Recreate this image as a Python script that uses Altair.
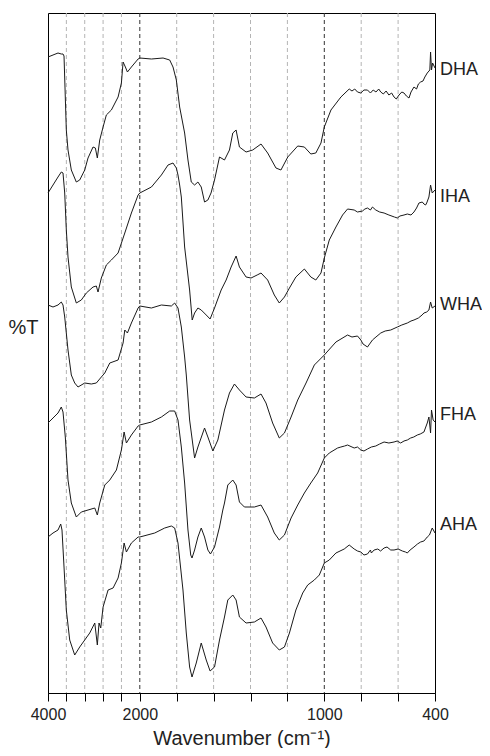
import altair as alt
import pandas as pd

FONT = "Liberation Sans"

TICKS = [4000, 3600, 3200, 2800, 2400, 2000, 1800, 1600, 1400, 1200, 1000, 800, 600, 400]
LABELED = [4000, 2000, 1000, 400]
MINOR_GRID = [3600, 3200, 2800, 2400, 1800, 1600, 1400, 1200, 800, 600]
MAJOR_GRID = [2000, 1000]

DHA_WN = [4000, 3891, 3782, 3710, 3673, 3651, 3601, 3564, 3492, 3383, 3309, 3200, 3128, 3019, 2968, 2925,
          2873, 2800, 2729, 2619, 2473, 2401, 2364, 2314, 2270, 2183, 2037, 2000, 1937, 1874, 1838, 1820,
          1802, 1784, 1757, 1739, 1721, 1703, 1685, 1667, 1649, 1631, 1614, 1595, 1568, 1541, 1514, 1496,
          1478, 1460, 1424, 1388, 1343, 1307, 1262, 1235, 1198, 1144, 1108, 1073, 1046, 1018, 1000, 964,
          910, 865, 850, 835, 820, 802, 785, 766, 750, 735, 720, 705, 694, 680, 665, 650, 635, 622, 610,
          595, 580, 568, 555, 541, 530, 514, 500, 490, 478, 465, 455, 442, 428, 424, 419, 413, 400]
DHA_T = [636, 638, 640, 639, 639, 637, 563, 543, 523, 511, 513, 523, 535, 546, 545, 535,
         553, 566, 578, 583, 596, 610, 631, 626, 621, 626, 634, 635, 634, 635, 633, 626,
         613, 586, 560, 533, 511, 508, 511, 506, 491, 493, 500, 513, 536, 533, 543, 560,
         563, 546, 541, 543, 549, 540, 525, 523, 536, 547, 546, 539, 540, 550, 566, 583,
         596, 604, 602, 604, 601, 600, 603, 603, 600, 603, 601, 604, 601, 599, 602, 598, 600, 596, 594,
         598, 601, 600, 597, 595, 601, 606, 604, 609, 611, 612, 616, 620, 623, 641, 623, 630, 625]

IHA_WN = [4000, 3891, 3782, 3710, 3673, 3636, 3601, 3564, 3492, 3383, 3274, 3165, 3019, 2947, 2910, 2838,
          2729, 2619, 2473, 2327, 2183, 2037, 2000, 1937, 1883, 1847, 1820, 1802, 1793, 1784, 1775, 1757,
          1730, 1716, 1703, 1685, 1667, 1640, 1619, 1595, 1559, 1532, 1505, 1478, 1460, 1424, 1397, 1364,
          1343, 1307, 1271, 1244, 1216, 1189, 1154, 1108, 1073, 1046, 1018, 1000, 973, 937, 901, 874, 838,
          820, 793, 780, 766, 750, 739, 721, 700, 676, 650, 620, 604, 590, 568, 550, 530, 514, 500, 487,
          469, 460, 451, 445, 433, 424, 415, 400]
IHA_T = [500, 508, 516, 521, 520, 500, 463, 436, 406, 390, 393, 400, 406, 407, 401, 415,
         428, 433, 440, 460, 480, 498, 500, 506, 518, 528, 530, 525, 518, 508, 496, 446,
         403, 373, 380, 385, 383, 378, 374, 385, 403, 413, 426, 437, 426, 416, 415, 418,
         420, 413, 398, 390, 396, 405, 416, 424, 416, 413, 420, 435, 453, 466, 478, 484, 483,
         481, 482, 484, 485, 483, 486, 483, 481, 480, 478, 476, 475, 477, 478, 479, 478, 481, 485, 490,
         491, 489, 488, 490, 496, 508, 500, 503]

WHA_WN = [4000, 3891, 3782, 3710, 3673, 3636, 3564, 3492, 3418, 3346, 3200, 3056, 2947, 2838, 2763, 2654,
          2473, 2364, 2327, 2270, 2183, 2037, 2000, 1937, 1883, 1829, 1811, 1793, 1775, 1757, 1748, 1730,
          1703, 1685, 1649, 1631, 1604, 1577, 1541, 1514, 1487, 1460, 1424, 1379, 1343, 1316, 1280, 1244,
          1216, 1180, 1144, 1099, 1054, 1000, 937, 874, 850, 820, 802, 790, 766, 739, 720, 694, 670, 640,
          604, 580, 550, 530, 514, 490, 470, 460, 445, 433, 424, 415, 400]
WHA_T = [388, 386, 388, 391, 388, 376, 343, 318, 310, 306, 310, 309, 310, 316, 320, 330,
         333, 350, 363, 360, 370, 385, 387, 385, 388, 387, 390, 385, 366, 336, 318, 273,
         235, 246, 265, 256, 242, 253, 283, 300, 309, 303, 296, 295, 299, 290, 270, 255,
         260, 276, 293, 310, 328, 338, 351, 358, 356, 357, 353, 349, 346, 353, 356, 360, 362, 363,
         366, 368, 370, 372, 373, 375, 378, 380, 381, 383, 391, 385, 387]

FHA_WN = [4000, 3891, 3782, 3710, 3673, 3623, 3564, 3492, 3383, 3274, 3128, 2981, 2925, 2873, 2763, 2654,
          2510, 2401, 2342, 2292, 2183, 2037, 2000, 1937, 1883, 1838, 1811, 1793, 1775, 1757, 1739, 1724,
          1717, 1703, 1685, 1667, 1649, 1631, 1617, 1595, 1568, 1550, 1541, 1523, 1496, 1478, 1460, 1433,
          1379, 1343, 1307, 1271, 1244, 1216, 1180, 1144, 1108, 1073, 1036, 1000, 973, 928, 910, 890, 874,
          838, 820, 802, 785, 766, 745, 721, 700, 676, 650, 622, 605, 586, 568, 550, 532, 515, 496, 480,
          460, 450, 442, 433, 424, 419, 410, 400]
FHA_T = [270, 275, 280, 286, 281, 256, 213, 190, 176, 181, 183, 185, 178, 190, 208, 213,
         223, 243, 261, 250, 258, 267, 268, 271, 276, 282, 282, 273, 246, 210, 163, 138,
         135, 143, 156, 165, 156, 143, 139, 146, 166, 183, 190, 208, 213, 208, 191, 186,
         186, 188, 176, 160, 153, 158, 175, 188, 200, 210, 220, 235, 240, 245, 246, 247, 248,
         245, 246, 243, 242, 244, 246, 247, 249, 251, 250, 251, 252, 250, 252, 253, 255, 256, 258, 259,
         261, 266, 270, 276, 260, 283, 273, 271]

AHA_WN = [4000, 3891, 3782, 3723, 3695, 3651, 3601, 3527, 3418, 3309, 3200, 3091, 2981, 2925, 2888, 2851,
          2800, 2691, 2582, 2473, 2401, 2342, 2292, 2183, 2037, 2000, 1919, 1865, 1829, 1811, 1793, 1766,
          1748, 1730, 1717, 1694, 1667, 1640, 1619, 1595, 1568, 1541, 1523, 1496, 1478, 1460, 1424, 1379,
          1343, 1316, 1280, 1244, 1216, 1189, 1154, 1117, 1090, 1054, 1027, 1000, 973, 937, 892, 865, 838,
          820, 802, 785, 766, 750, 745, 730, 710, 695, 676, 660, 640, 622, 600, 577, 560, 550, 535, 514,
          495, 478, 460, 442, 430, 415, 400]
AHA_T = [156, 160, 163, 169, 163, 126, 83, 53, 38, 46, 53, 60, 70, 48, 70, 65,
         86, 103, 105, 115, 130, 150, 141, 150, 156, 156, 160, 165, 167, 165, 150, 103,
         60, 26, 16, 30, 50, 33, 22, 26, 53, 76, 93, 98, 93, 76, 70, 71,
         75, 66, 50, 43, 46, 60, 83, 100, 108, 113, 118, 130, 133, 140, 144, 148, 144,
         142, 141, 138, 139, 143, 140, 143, 144, 142, 145, 146, 143, 143, 144, 142, 141, 140, 143, 146,
         149, 151, 152, 156, 158, 165, 160]

SAMPLES = ["DHA", "IHA", "WHA", "FHA", "AHA"]
LABEL_POS = [623, 496, 388, 278, 168]
LABEL_WN = 400

series = {
    "DHA": (DHA_WN, DHA_T),
    "IHA": (IHA_WN, IHA_T),
    "WHA": (WHA_WN, WHA_T),
    "FHA": (FHA_WN, FHA_T),
    "AHA": (AHA_WN, AHA_T),
}

rows = []
for name in SAMPLES:
    wn, t = series[name]
    for i, (a, b) in enumerate(zip(wn, t)):
        rows.append({"sample": name, "wn": a, "v": b, "i": i})
df = pd.DataFrame(rows)

labels_df = pd.DataFrame({"sample": SAMPLES, "wn": [LABEL_WN] * len(SAMPLES), "v": LABEL_POS})
minor_df = pd.DataFrame({"wn": MINOR_GRID})
major_df = pd.DataFrame({"wn": MAJOR_GRID})

W, H = 387, 680
xscale = alt.Scale(domain=[4000, 2000, 400], range=[0, round(W * 91.7 / 386.7, 1), W],
                   nice=False, zero=False)
yscale = alt.Scale(domain=[0, 680], nice=False, zero=False)

label_test = "indexof([" + ",".join(str(v) for v in LABELED) + "], datum.value) >= 0 ? datum.label : ''"

xaxis = alt.Axis(
    values=TICKS, format="d", labelExpr=label_test, grid=False,
    tickSize=8, labelPadding=5, labelFontSize=16, labelFont=FONT, labelColor="#222",
    labelOverlap=False, labelFlush=False,
    title="Wavenumber (cm⁻¹)", titleFontSize=20, titleFont=FONT, titleFontWeight="normal",
    titleColor="#222", titleY=51, titleBaseline="alphabetic",
    domainColor="black", tickColor="black", domainWidth=1, tickWidth=1,
)
yaxis = alt.Axis(
    title="%T", labels=False, ticks=False, domain=False, grid=False,
    titleAngle=0, titleX=-25, titleY=314, titleAlign="center", titleBaseline="middle",
    titleFontSize=20, titleFont=FONT, titleFontWeight="normal", titleColor="#222",
)

X = alt.X("wn:Q", scale=xscale, axis=xaxis)
Y = alt.Y("v:Q", scale=yscale, axis=yaxis)

minor = alt.Chart(minor_df).mark_rule(color="#b4b4b4", strokeDash=[4, 3], strokeWidth=1).encode(x=X)
major = alt.Chart(major_df).mark_rule(color="#333333", strokeDash=[4, 3], strokeWidth=1).encode(x=X)

lines = alt.Chart(df).mark_line(color="#1a1a1a", strokeWidth=1).encode(
    x=X, y=Y, detail="sample:N", order="i:Q"
)

labels = alt.Chart(labels_df).mark_text(
    align="left", baseline="middle", dx=5, fontSize=18, font=FONT, color="#222"
).encode(x=X, y=Y, text="sample:N")

chart = alt.layer(minor, major, lines, labels).properties(
    width=W, height=H,
    padding={"left": 40, "top": 5, "right": 47, "bottom": 55},
    autosize="none",
).configure_view(stroke="black", strokeWidth=1)

chart.save("out.html", embed_options={"renderer": "svg", "actions": False})
